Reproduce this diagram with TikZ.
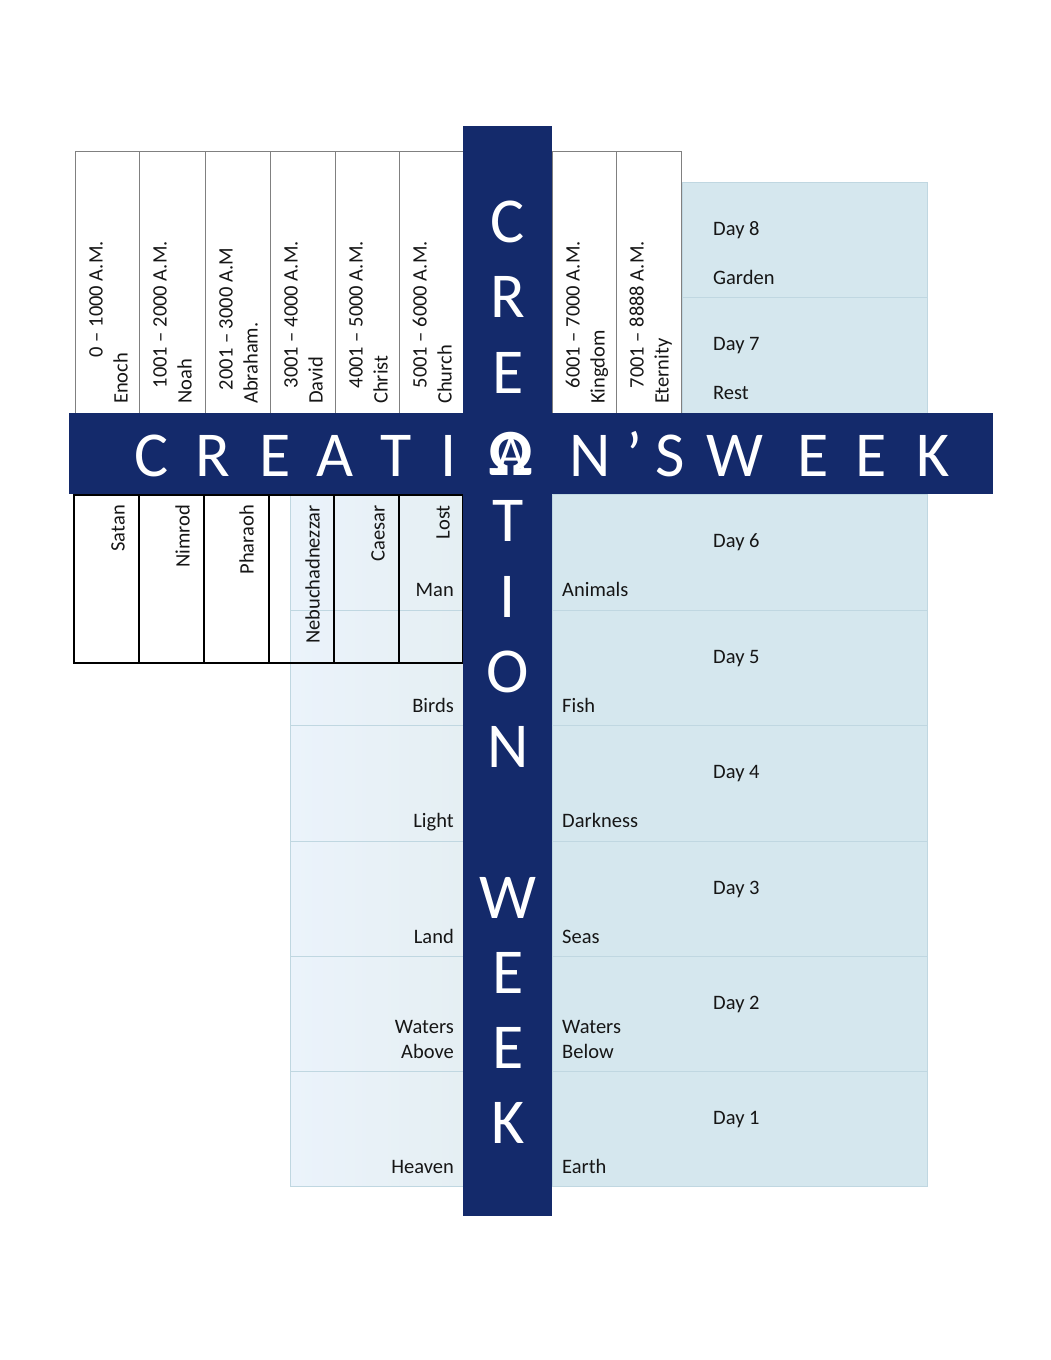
\documentclass[tikz,border=0pt]{standalone}
\usepackage{fontspec}
\setmainfont{Carlito}
\definecolor{navy}{RGB}{20,42,107}
\definecolor{lightR}{RGB}{213,231,238}
\definecolor{lightLa}{RGB}{235,243,251}
\definecolor{lightLb}{RGB}{229,239,243}
\definecolor{boxline}{RGB}{192,215,225}
\definecolor{colline}{RGB}{128,128,128}
\definecolor{txt}{RGB}{22,22,22}
\begin{document}
\begin{tikzpicture}[x=1pt,y=-1pt,
  small/.style={font=\fontsize{20.5}{24}\selectfont, text=txt, inner sep=0pt},
  vt/.style={small, rotate=90},
  big/.style={font=\fontsize{64}{70}\selectfont, text=white, inner sep=0pt, anchor=base},
  colbox/.style={draw=colline, line width=0.9pt, fill=white},
  blkbox/.style={draw=black, line width=1.6pt},
  rbox/.style={fill=lightR, draw=boxline, line width=0.9pt},
  lbox/.style={left color=lightLa, right color=lightLb, draw=boxline, line width=0.9pt},
  bar/.style={fill=navy, draw=none}]
\useasboundingbox (0,0) rectangle (1051,1360);
\fill[white] (0,0) rectangle (1051,1360);

% light day boxes (right and left of the vertical bar)
\foreach \t/\b [count=\i] in {494/610,610/725,725/841,841/956,956/1071,1071/1186}{
  \draw[rbox] (552,\t) rectangle (927,\b);
  \draw[lbox] (290,\t) rectangle (463,\b);
}
\draw[rbox] (682,182) rectangle (927,297);
\draw[rbox] (682,297) rectangle (927,413);

% top columns (eras)
\foreach \l/\r/\la/\lb/\e [count=\i] in {
  75/139/{0 – 1000 A.M.}/Enoch/241,
  139/205/{1001 – 2000 A.M.}/Noah/241,
  205/270/{2001 – 3000 A.M}/Abraham./248,
  270/335/{3001 – 4000 A.M.}/David/241,
  335/399/{4001 – 5000 A.M.}/Christ/241,
  399/463/{5001 – 6000 A.M.}/Church/241,
  552/616/{6001 – 7000 A.M.}/Kingdom/241,
  616/681/{7001 – 8888 A.M.}/Eternity/241}{
  \draw[colbox] (\l,151) rectangle (\r,413);
  \node[vt, anchor=base east] (era\i) at (\l+27.5,\e) {\la};
  \node[vt, anchor=base west] (who\i) at (\l+52.5,404) {\lb};
}

% lower-left boxes (rulers)
\foreach \l/\r/\nm/\cx [count=\i] in {
  74/139/Satan/118, 139/204/Nimrod/183, 204/269/Pharaoh/247,
  269/334/Nebuchadnezzar/313, 334/399/Caesar/378, 399/463/Lost/443}{
  \draw[blkbox] (\l,495) rectangle (\r,663);
  \node[vt, anchor=base east] (ruler\i) at (\cx+6.5,505) {\nm};
}

% day labels
\node[small, anchor=base west] (d8) at (713,235) {Day 8};
\node[small, anchor=base west] (d8b) at (713,284) {Garden};
\node[small, anchor=base west] (d7) at (713,350) {Day 7};
\node[small, anchor=base west] (d7b) at (713,399) {Rest};
\node[small, anchor=base west] (d6) at (713,547) {Day 6};
\node[small, anchor=base west] (d6b) at (562,596) {Animals};
\node[small, anchor=base east] (d6a) at (454,596) {Man};
\node[small, anchor=base west] (d5) at (713,663) {Day 5};
\node[small, anchor=base west] (d5b) at (562,712) {Fish};
\node[small, anchor=base east] (d5a) at (454,712) {Birds};
\node[small, anchor=base west] (d4) at (713,778) {Day 4};
\node[small, anchor=base west] (d4b) at (562,827) {Darkness};
\node[small, anchor=base east] (d4a) at (454,827) {Light};
\node[small, anchor=base west] (d3) at (713,894) {Day 3};
\node[small, anchor=base west] (d3b) at (562,943) {Seas};
\node[small, anchor=base east] (d3a) at (454,943) {Land};
\node[small, anchor=base west] (d2) at (713,1009) {Day 2};
\node[small, anchor=base west] (d2b) at (562,1033) {Waters};
\node[small, anchor=base west] (d2c) at (562,1058) {Below};
\node[small, anchor=base east] (d2a) at (454,1033) {Waters};
\node[small, anchor=base east] (d2d) at (454,1058) {Above};
\node[small, anchor=base west] (d1) at (713,1124) {Day 1};
\node[small, anchor=base west] (d1b) at (562,1173) {Earth};
\node[small, anchor=base east] (d1a) at (454,1173) {Heaven};

% the cross
\fill[bar] (463,126) rectangle (552,1216);
\fill[bar] (69,413) rectangle (993,494);

% horizontal word
\foreach \ch/\xx [count=\i] in {C/152,R/213,E/275,A/335,T/396,I/449,N/590,’/634,S/670,W/735,E/813,E/871,K/933}{
  \node[big] (h\i) at (\xx,476) {\ch};
}
% vertical word
\foreach \ch/\yy [count=\i] in {C/222,R/297,E/373,T/521,I/597,O/672,N/747,W/898,E/973,E/1048,K/1123}{
  \node[big] (v\i) at (508,\yy+20.5) {\ch};
}
% alpha-omega at the crossing
\node[big, font=\fontsize{66}{70}\selectfont\bfseries] (omega) at (511,475) {Ω};
\node[big, font=\fontsize{48}{52}\selectfont] (alpha) at (511,469) {A};
\end{tikzpicture}
\end{document}
